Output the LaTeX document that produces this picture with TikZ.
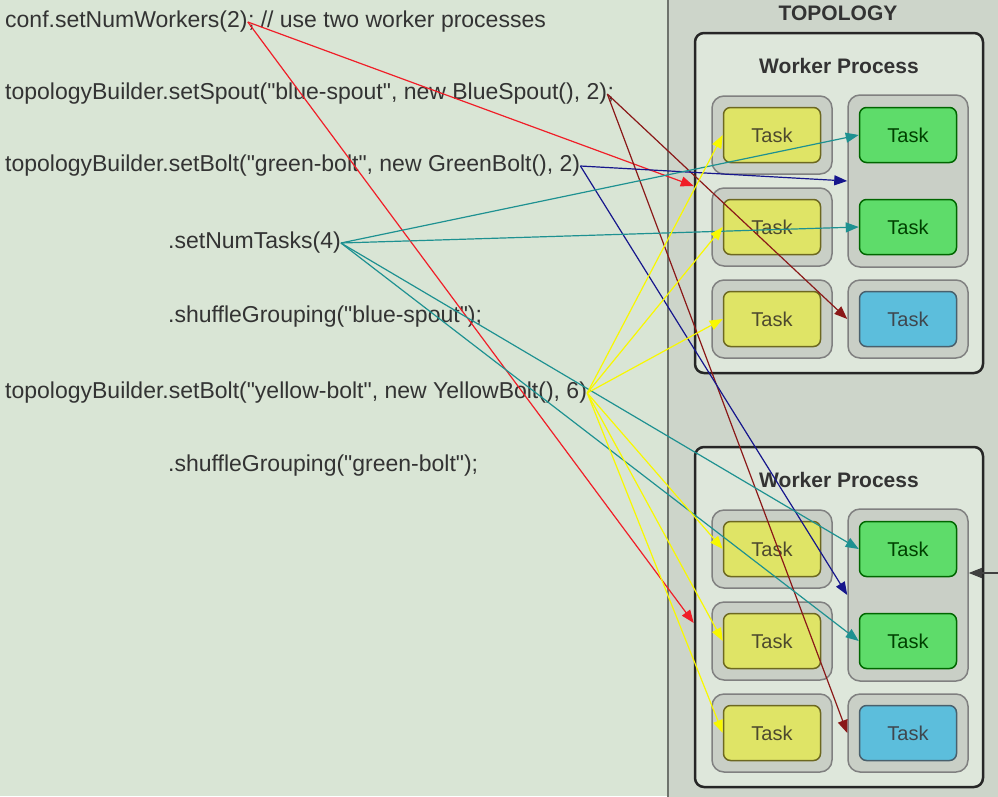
\documentclass[tikz,border=0pt]{standalone}
\usepackage{fontspec}
\setmainfont{Liberation Sans}[Ligatures=TeXOff]
\usepackage{tikz}
\usetikzlibrary{shapes.geometric, arrows.meta, positioning, calc}
\definecolor{bgfill}{HTML}{D9E5D5}
\definecolor{panelfill}{HTML}{CDD5CA}
\definecolor{panelline}{HTML}{6E736C}
\definecolor{workerfill}{HTML}{DEE7DB}
\definecolor{slotfill}{HTML}{C9CFC6}
\definecolor{taskyellow}{HTML}{DFE466}
\definecolor{taskgreen}{HTML}{5EDC6A}
\definecolor{taskblue}{HTML}{5CBEDC}
\definecolor{arrred}{HTML}{F01E28}
\definecolor{arrbrown}{HTML}{8A1818}
\definecolor{arrnavy}{HTML}{16168C}
\definecolor{arrteal}{HTML}{1E9191}
\definecolor{arryellow}{HTML}{F8F800}
\tikzstyle{code} = [anchor=west, inner sep=0pt, text height=16pt, text depth=5pt, text=black!80, font=\fontsize{23}{27}\selectfont]
\tikzstyle{title} = [text=black!80, font=\bfseries\fontsize{21}{25}\selectfont]
\tikzstyle{panel} = [rectangle, anchor=north west, minimum width=360pt, minimum height=830pt, draw=panelline, line width=2pt, fill=panelfill]
\tikzstyle{worker} = [rectangle, rounded corners=9pt, minimum width=288pt, minimum height=340pt, draw=black!85, line width=2.5pt, fill=workerfill]
\tikzstyle{slot} = [rectangle, rounded corners=12pt, minimum width=120pt, minimum height=78pt, draw=gray, line width=1.5pt, fill=slotfill]
\tikzstyle{task} = [rectangle, rounded corners=7pt, minimum width=97pt, minimum height=55pt, line width=1.5pt, font=\fontsize{20}{24}\selectfont]
\tikzstyle{ytask} = [task, fill=taskyellow, draw=olive!70!black, text=olive!40!black]
\tikzstyle{gtask} = [task, fill=taskgreen, draw=green!40!black, text=green!25!black]
\tikzstyle{btask} = [task, fill=taskblue, draw=cyan!35!black, text=cyan!20!black]
\tikzstyle{arrow} = [line width=1.2pt, -{Triangle[length=13pt,width=10pt]}]

\begin{document}
\begin{tikzpicture}[x=1pt, y=1pt]
    \useasboundingbox (0,0) rectangle (998,-796);
    \clip (0,0) rectangle (998,-796);
    \fill [bgfill] (0,0) rectangle (998,-796);

    % Code lines
    \node (workers) [code] at (5,-22) {conf.setNumWorkers(2)};
    \node (comment) [code, right=0pt of workers] {; // use two worker processes};
    \node (spout) [code] at (5,-94) {topologyBuilder.setSpout("blue-spout", new BlueSpout(), 2)};
    \node (spoutend) [code, right=0pt of spout] {;};
    \node (greenbolt) [code] at (5,-166) {topologyBuilder.setBolt("green-bolt", new GreenBolt(), 2)};
    \node (numtasks) [code] at (168,-243) {.setNumTasks(4)};
    \node (blueshuffle) [code] at (168,-317) {.shuffleGrouping("blue-spout");};
    \node (yellowbolt) [code] at (5,-393) {topologyBuilder.setBolt("yellow-bolt", new YellowBolt(), 6)};
    \node (greenshuffle) [code] at (168,-466) {.shuffleGrouping("green-bolt");};

    % Topology
    \node (topo) [panel] at (667,12) {};
    \node (topotitle) [title] at (838,-13) {TOPOLOGY};

    % Worker Process 1
    \node (wp1) [worker] at (839,-203) {};
    \node (wp1title) [title, yshift=-34pt] at (wp1.north) {Worker Process};
    \node (s11) [slot] at ($(wp1.center)+(-67,68)$) {};
    \node (s12) [slot] at ($(wp1.center)+(-67,-24)$) {};
    \node (s13) [slot] at ($(wp1.center)+(-67,-116)$) {};
    \node (s1g) [slot, minimum height=172pt] at ($(wp1.center)+(69,22)$) {};
    \node (s1b) [slot] at ($(wp1.center)+(69,-116)$) {};
    \node (y11) [ytask] at (s11.center) {Task};
    \node (y12) [ytask] at (s12.center) {Task};
    \node (y13) [ytask] at (s13.center) {Task};
    \node (g11) [gtask] at ($(wp1.center)+(69,68)$) {Task};
    \node (g12) [gtask] at ($(wp1.center)+(69,-24)$) {Task};
    \node (b1) [btask] at (s1b.center) {Task};

    % Worker Process 2
    \node (wp2) [worker] at (839,-617) {};
    \node (wp2title) [title, yshift=-34pt] at (wp2.north) {Worker Process};
    \node (s21) [slot] at ($(wp2.center)+(-67,68)$) {};
    \node (s22) [slot] at ($(wp2.center)+(-67,-24)$) {};
    \node (s23) [slot] at ($(wp2.center)+(-67,-116)$) {};
    \node (s2g) [slot, minimum height=172pt] at ($(wp2.center)+(69,22)$) {};
    \node (s2b) [slot] at ($(wp2.center)+(69,-116)$) {};
    \node (y21) [ytask] at (s21.center) {Task};
    \node (y22) [ytask] at (s22.center) {Task};
    \node (y23) [ytask] at (s23.center) {Task};
    \node (g21) [gtask] at ($(wp2.center)+(69,68)$) {Task};
    \node (g22) [gtask] at ($(wp2.center)+(69,-24)$) {Task};
    \node (b2) [btask] at (s2b.center) {Task};

    % Arrows
    \draw [arrow, arrred] (workers.east) -- ([yshift=17pt]wp1.west);
    \draw [arrow, arrred] (workers.east) -- ([yshift=-6pt]wp2.west);
    \draw [arrow, arrbrown] (spout.east) -- (s1b.west);
    \draw [arrow, arrbrown] (spout.east) -- (s2b.west);
    \draw [arrow, arrnavy] (greenbolt.east) -- (s1g.west);
    \draw [arrow, arrnavy] (greenbolt.east) -- (s2g.west);
    \draw [arrow, arrteal] (numtasks.east) -- (g11.west);
    \draw [arrow, arrteal] (numtasks.east) -- (g12.west);
    \draw [arrow, arrteal] (numtasks.east) -- (g21.west);
    \draw [arrow, arrteal] (numtasks.east) -- (g22.west);
    \draw [arrow, arryellow] (yellowbolt.east) -- (y11.west);
    \draw [arrow, arryellow] (yellowbolt.east) -- (y12.west);
    \draw [arrow, arryellow] (yellowbolt.east) -- (y13.west);
    \draw [arrow, arryellow] (yellowbolt.east) -- (y21.west);
    \draw [arrow, arryellow] (yellowbolt.east) -- (y22.west);
    \draw [arrow, arryellow] (yellowbolt.east) -- (y23.west);
    \coordinate (offpage) at (1012,-573);
    \draw [arrow, black!75] (offpage) -- ([yshift=22pt]s2g.east);
\end{tikzpicture}
\end{document}
